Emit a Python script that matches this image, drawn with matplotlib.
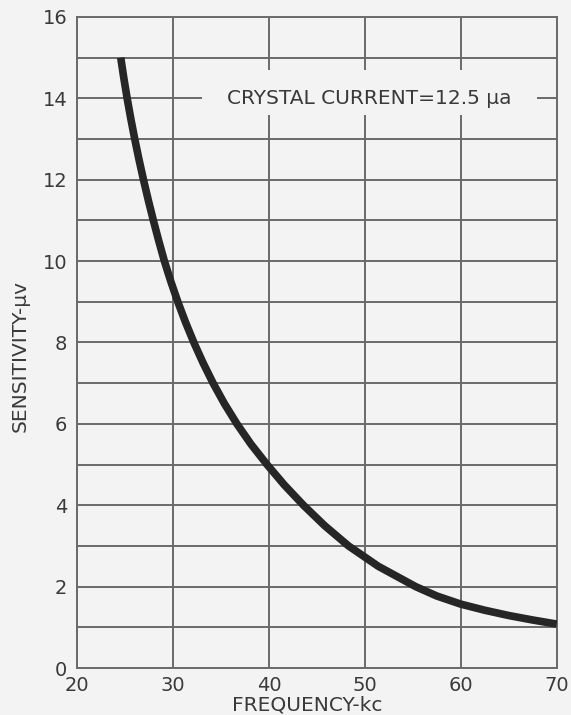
import numpy as np
import matplotlib.pyplot as plt
from matplotlib.patches import Rectangle

# readings (frequency in kc, sensitivity in microvolts)
freq = [24.55, 24.87, 25.22, 25.6, 26.01, 26.45, 26.92, 27.42, 27.95, 28.51, 29.1,
        29.77, 30.5, 31.3, 32.17, 33.13, 34.18, 35.35, 36.66, 38.13, 39.8,
        41.6, 43.6, 45.8, 48.3, 51.4, 55.3, 57.5, 60.0, 62.5, 65.0, 67.5, 70.0]
sens = [15.0, 14.5, 14.0, 13.5, 13.0, 12.5, 12.0, 11.5, 11.0, 10.5, 10.0,
        9.5, 9.0, 8.5, 8.0, 7.5, 7.0, 6.5, 6.0, 5.5, 5.0,
        4.5, 4.0, 3.5, 3.0, 2.5, 2.0, 1.77, 1.57, 1.42, 1.29, 1.18, 1.08]

xticks = [20, 30, 40, 50, 60, 70]
yticks = [0, 2, 4, 6, 8, 10, 12, 14, 16]
note = 'CRYSTAL CURRENT=12.5 μa'

paper = '#f3f3f3'
ink = '#3a3a3a'
gridc = '#6a6a6a'

fig = plt.figure(figsize=(5.71, 7.15), dpi=100, facecolor=paper)
ax = fig.add_axes([0.135, 0.0657, 0.84, 0.9106])
ax.set_facecolor(paper)

ax.set_xlim(20, 70)
ax.set_ylim(0, 16)
ax.set_xticks(xticks)
ax.set_yticks(yticks)
ax.set_yticks(np.arange(1, 16, 2), minor=True)
ax.grid(which='both', color=gridc, linewidth=1.4)
ax.set_axisbelow(True)
ax.tick_params(which='both', length=0)
ax.tick_params(axis='y', pad=7, labelsize=14, labelcolor=ink)
ax.tick_params(axis='x', pad=6, labelsize=14, labelcolor=ink)
for s in ax.spines.values():
    s.set_color(gridc)
    s.set_linewidth(1.4)

# gap in the grid where the note sits
ax.add_patch(Rectangle((33.0, 13.6), 34.9, 1.1, facecolor=paper, edgecolor='none', zorder=1.5))
ax.text(50.5, 14.0, note, ha='center', va='center', fontsize=14.5, color=ink, zorder=3)

ax.plot(freq, sens, color='#262626', linewidth=5.5, solid_capstyle='butt',
        solid_joinstyle='round', zorder=4)

ax.set_xlabel('FREQUENCY-kc', fontsize=14.5, color=ink)
ax.xaxis.label.set_va('center')
ax.xaxis.set_label_coords(0.479, -0.057)
ax.set_ylabel('SENSITIVITY-μv', fontsize=14.5, color=ink)
ax.yaxis.label.set_va('center')
ax.yaxis.set_label_coords(-0.119, 0.48)

plt.savefig('out.png', dpi=100, facecolor=paper)
